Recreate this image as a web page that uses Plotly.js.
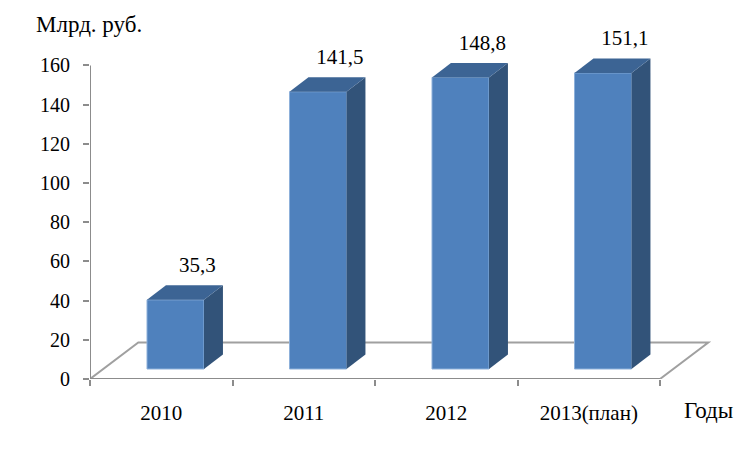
<!DOCTYPE html>
<html><head><meta charset="utf-8">
<script src="https://cdn.plot.ly/plotly-3.0.1.min.js"></script>
<style>html,body{margin:0;padding:0;background:#fff}</style></head>
<body><div id="chart" style="width:751px;height:449px"></div>
<script>
const categories = ['2010', '2011', '2012', '2013(план)'];
const values = [35.3, 141.5, 148.8, 151.1];
const valueLabels = ['35,3', '141,5', '148,8', '151,1'];
const yTicks = [0, 20, 40, 60, 80, 100, 120, 140, 160];

// pseudo-3D geometry in axis units
const baseLift = 5.1, barShift = 0.1, barWidth = 0.4, depthX = 0.133, depthY = 7.4;
const floorDX = 0.339, floorDY = 18.6;
const serif = 'Liberation Serif, Times New Roman, serif';
const font = {family: serif, size: 21, color: '#000'};
const tickFont = {family: serif, size: 20, color: '#000'};
const titleFont = {family: serif, size: 23, color: '#000'};
const grey = '#8c8c8c';
const positions = categories.map((_, i) => i);

const sideTraces = values.map((v, i) => {
  const r = i + barShift + barWidth / 2, t = v + baseLift;
  return {type: 'scatter', mode: 'none', fill: 'toself', fillcolor: '#325379', hoverinfo: 'skip', showlegend: false,
    x: [r, r + depthX, r + depthX, r, r], y: [baseLift, baseLift + depthY, t + depthY, t, baseLift]};
});
const topTraces = values.map((v, i) => {
  const l = i + barShift - barWidth / 2, r = i + barShift + barWidth / 2, t = v + baseLift;
  return {type: 'scatter', mode: 'none', fill: 'toself', fillcolor: '#3c6494', hoverinfo: 'skip', showlegend: false,
    x: [l, r, r + depthX, l + depthX, l], y: [t, t, t + depthY, t + depthY, t]};
});
const bars = {type: 'bar', x: positions, y: values, base: values.map(() => baseLift),
  width: barWidth, offset: barShift - barWidth / 2, hoverinfo: 'skip', showlegend: false,
  marker: {color: '#4f81bd', line: {color: '#8db0da', width: 1}}};
const labels = {type: 'scatter', mode: 'text', x: positions.map(i => i + barShift + depthX + 0.021),
  y: values.map(v => v + baseLift + 16.8), text: valueLabels, textposition: 'middle center',
  textfont: font, hoverinfo: 'skip', showlegend: false, cliponaxis: false};

const xMin = -0.5, xMax = categories.length - 0.5;
const layout = {
  width: 751, height: 449, paper_bgcolor: '#fff', plot_bgcolor: '#fff', showlegend: false,
  margin: {l: 90, r: 36, t: 20, b: 69.5},
  bargap: 0,
  xaxis: {type: 'linear', range: [-0.5, 3.886], showgrid: false, zeroline: false, showline: false,
    tickmode: 'array', tickvals: positions, ticktext: categories, ticks: '', tickfont: font, ticklabelstandoff: 19,
    minor: {tickmode: 'array', tickvals: [-0.5, 0.5, 1.5, 2.5, 3.5], ticks: 'outside', ticklen: 6, tickwidth: 2, tickcolor: grey, showgrid: false}},
  yaxis: {range: [0, 183.2], showgrid: false, zeroline: false, showline: false,
    tickmode: 'array', tickvals: yTicks, ticks: 'outside', ticklen: 6, tickwidth: 2, tickcolor: grey, tickfont: tickFont, ticklabelstandoff: 9},
  shapes: [
    {type: 'path', layer: 'below', xref: 'x', yref: 'y', line: {color: '#a0a0a0', width: 2},
      path: `M ${xMin} 0 L ${xMin + floorDX} ${floorDY} L ${xMax + floorDX} ${floorDY} L ${xMax} 0 Z`},
    {type: 'line', layer: 'below', xref: 'x', yref: 'y', x0: xMin, x1: xMin, y0: 0, y1: 160, line: {color: grey, width: 2}},
    {type: 'line', layer: 'below', xref: 'x', yref: 'y', x0: xMin, x1: xMax, y0: 0, y1: 0, line: {color: grey, width: 2}}
  ],
  annotations: [
    {text: 'Млрд. руб.', xref: 'paper', yref: 'paper', x: (89 - 90) / 625, y: (379.5 - 25) / 359.5, showarrow: false, font: titleFont, xanchor: 'center', yanchor: 'middle'},
    {text: 'Годы', xref: 'paper', yref: 'paper', x: (708 - 90) / 625, y: -32 / 359.5, showarrow: false, font: titleFont, xanchor: 'center', yanchor: 'middle'}
  ]
};
Plotly.newPlot('chart', [bars, ...sideTraces, ...topTraces, labels], layout, {displayModeBar: false, staticPlot: true});
</script></body></html>
